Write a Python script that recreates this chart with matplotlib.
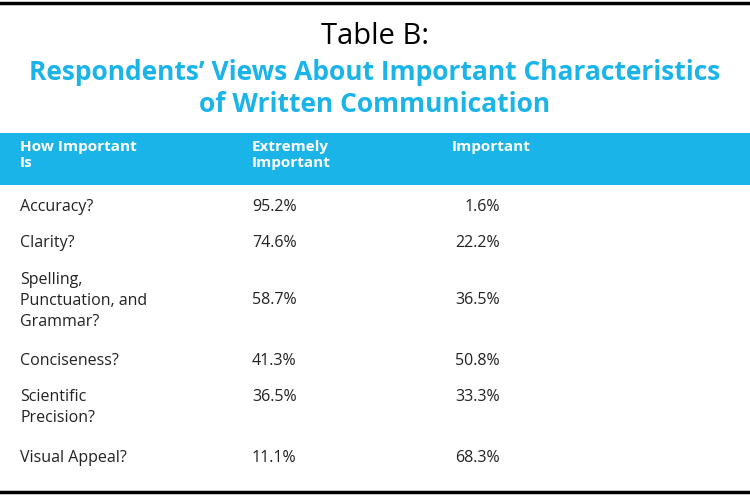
import matplotlib
matplotlib.use("Agg")
import matplotlib.pyplot as plt
from matplotlib.patches import Rectangle

categories = ["Accuracy?", "Clarity?", "Spelling,\nPunctuation, and\nGrammar?",
              "Conciseness?", "Scientific\nPrecision?", "Visual Appeal?"]
extremely = [95.2, 74.6, 58.7, 41.3, 36.5, 11.1]
important = [1.6, 22.2, 36.5, 50.8, 33.3, 68.3]
headers = ["How Important\nIs", "Extremely\nImportant", "Important"]

row_y = [210, 246, 283, 364, 400, 461]
val_y = [210, 246, 303, 364, 400, 461]
cyan = "#1ab4e9"
font = "Open Sans"

fig = plt.figure(figsize=(7.5, 5), dpi=100)
ax = fig.add_axes([0, 0, 1, 1])
ax.set_xlim(0, 750); ax.set_ylim(500, 0); ax.axis("off")

ax.plot([0, 750], [3, 3], color="black", lw=2.5)
ax.plot([0, 750], [492, 492], color="black", lw=2.5)
ax.text(375, 36, "Table B:", ha="center", va="center", fontsize=21, family=font, color="black")
ax.text(375, 72, "Respondents\u2019 Views About Important Characteristics", ha="center", va="center",
        fontsize=19, family=font, color=cyan, fontweight="bold")
ax.text(375, 104, "of Written Communication", ha="center", va="center",
        fontsize=19, family=font, color=cyan, fontweight="bold")
ax.add_patch(Rectangle((0, 133), 750, 52, color=cyan, lw=0))
for x, h in zip([20, 252, 452], headers):
    ax.text(x, 140, h, ha="left", va="top", fontsize=11, family=font, color="white",
            fontweight="bold", linespacing=1.2)
for y, vy, c, e, i in zip(row_y, val_y, categories, extremely, important):
    ax.text(20, y - 11, c, ha="left", va="top", fontsize=11.5, family=font, color="#222", linespacing=1.4)
    ax.text(252, vy - 11, f"{e:.1f}%", ha="left", va="top", fontsize=11.5, family=font, color="#222")
    ax.text(500, vy - 11, f"{i:.1f}%", ha="right", va="top", fontsize=11.5, family=font, color="#222")
fig.savefig("out.png", dpi=100)
